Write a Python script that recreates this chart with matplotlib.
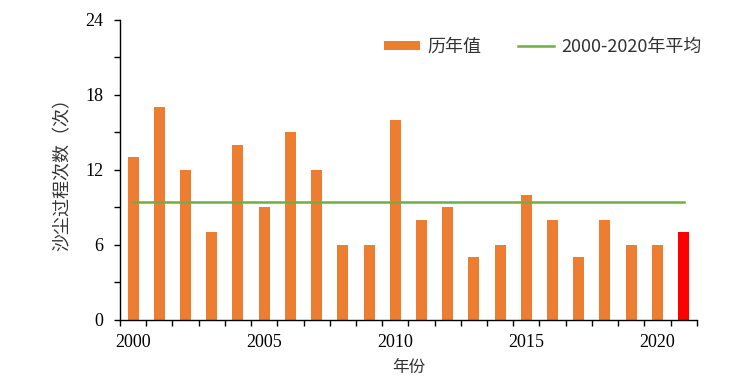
import numpy as np
import matplotlib.pyplot as plt
from matplotlib.ticker import MultipleLocator, FixedLocator

plt.rcParams['font.family'] = ['Liberation Serif', 'Noto Sans CJK SC']

years = list(range(2000, 2022))
counts = [13, 17, 12, 7, 14, 9, 15, 12, 6, 6, 16, 8, 9, 5, 6, 10, 8, 5, 8, 6, 6, 7]
mean_2000_2020 = 9.4

colors = ['#ED7D31'] * (len(years) - 1) + ['#FF0000']
x = np.arange(len(years))

fig = plt.figure(figsize=(7.5, 3.83), dpi=100)
ax = fig.add_axes([0.16, 0.1645, 0.769, 0.7835])

bars = ax.bar(x, counts, width=0.42, color=colors, label='历年值')
line, = ax.plot(x, [mean_2000_2020] * len(x), color='#70AD47', lw=1.8,
                label='2000-2020年平均')

ax.set_xlim(-0.5, len(years) - 0.5)
ax.set_ylim(0, 24)
ax.yaxis.set_major_locator(MultipleLocator(6))
ax.yaxis.set_minor_locator(MultipleLocator(3))
ax.xaxis.set_major_locator(FixedLocator([0, 5, 10, 15, 20]))
ax.set_xticklabels(['2000', '2005', '2010', '2015', '2020'])
ax.xaxis.set_minor_locator(FixedLocator(np.arange(-0.5, len(years), 1.0)))

ax.tick_params(axis='x', which='major', length=0, pad=10, labelsize=13)
ax.tick_params(axis='x', which='minor', length=4, direction='out', width=1)
ax.tick_params(axis='y', which='both', length=4, direction='out', width=1,
               labelsize=13, pad=8)
for lab in ax.get_xticklabels() + ax.get_yticklabels():
    lab.set_family('Liberation Serif')

for s in ['top', 'right']:
    ax.spines[s].set_visible(False)
for s in ['left', 'bottom']:
    ax.spines[s].set_linewidth(1)

ax.set_xlabel('年份', fontsize=12, family=['Noto Sans CJK SC'], labelpad=6,
              color='#333333')
ax.set_ylabel('沙尘过程次数（次）', fontsize=13, family=['Noto Sans CJK SC'],
              labelpad=10, color='#333333')

ax.legend([bars, line], ['历年值', '2000-2020年平均'],
          loc='center right', bbox_to_anchor=(1.03, 0.91), ncol=2,
          frameon=False, handlelength=2.0, handleheight=0.45,
          columnspacing=2.0, handletextpad=0.4, borderpad=0.2,
          prop={'family': ['Noto Sans CJK SC'], 'size': 13},
          labelcolor='#333333')

fig.savefig('out.png', dpi=100)
